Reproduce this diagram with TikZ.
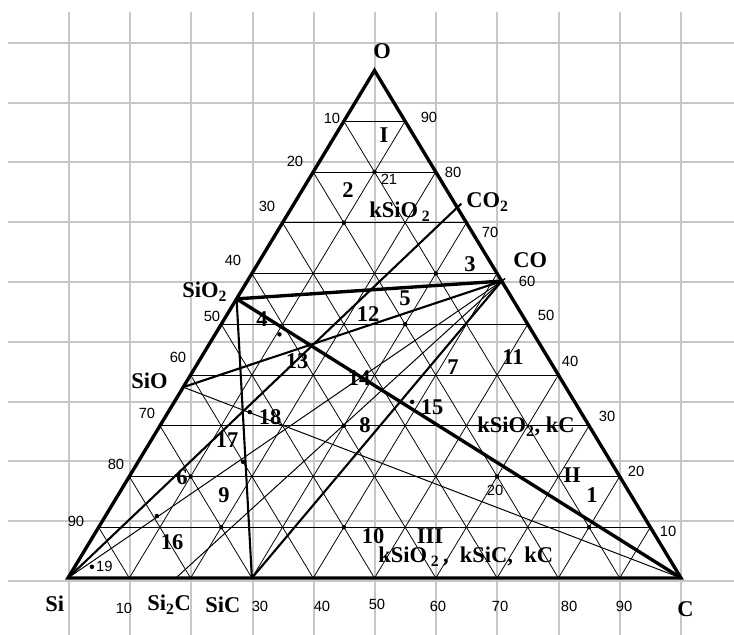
\documentclass[tikz,border=0pt]{standalone}
\usepackage{fontspec}
\setmainfont{Liberation Serif}
\newfontfamily\tickfont{Liberation Sans}
\usetikzlibrary{positioning}

\begin{document}
\begin{tikzpicture}[x=0.25mm, y=0.25mm,
    paper/.style={black!22, line width=1.4pt},
    mesh/.style={line width=0.55pt},
    heavy/.style={line width=2.4pt},
    medium/.style={line width=1.5pt},
    light/.style={line width=0.7pt},
    phase/.style={font=\fontsize{16}{16}\selectfont\bfseries, inner sep=0pt},
    tick/.style={font=\tickfont\fontsize{10.5}{10.5}\selectfont, inner sep=0pt},
    spot/.style={circle, fill, inner sep=0pt, minimum size=3.2pt}]
  \useasboundingbox (0,0) rectangle (734,635);
  % squared paper behind the diagram
  \foreach \i in {0,...,9}
    \draw[paper] (8,54+59.8*\i) -- (734,54+59.8*\i);
  \foreach \i in {0,...,10}
    \draw[paper] (69+61.2*\i,0) -- (69+61.2*\i,623);

  % ternary frame: x = mass % C, y = mass % O (y set first, it is read in the old units)
  \begin{scope}[shift={(68,57)}, y={(3.065,5.075)}, x={(6.13,0)}]
    \coordinate (Si) at (0,0);
    \coordinate (C) at (100,0);
    \coordinate (O) at (0,100);
    \coordinate (SiO2) at (0,55);
    \coordinate (SiO) at (0,37.6);
    \coordinate (CO) at (41.5,58.5);
    \coordinate (CO2) at (27,73);
    \coordinate (SiC) at (30,0);
    \coordinate (Si2C) at (17.6,0);
    \foreach \k in {10,20,...,90} {
      \draw[mesh] (0,\k) -- (100-\k,\k);
      \draw[mesh] (\k,0) -- (\k,100-\k);
      \draw[mesh] (\k,0) -- (0,\k);
    }
    \draw[light] (SiO) -- (C);
    \draw[light, shorten >=-3pt] (Si) -- (CO);
    \draw[light, shorten >=-3pt] (Si2C) -- (CO);
    \draw[medium] (SiC) -- (CO);
    \draw[medium] (SiO) -- (CO);
    \draw[medium] (SiO2) -- (SiC);
    \draw[medium, shorten >=-4pt] (Si) -- (CO2);
    \draw[heavy] (SiO2) -- (CO);
    \draw[heavy] (SiO2) -- (C);
    \draw[heavy, line join=miter] (Si) -- (C) -- (O) -- cycle;
    % reaction mixtures
    \foreach \lab/\pc/\po in {21/10/80, 2/10/70, 3/30/60, 12/30/50, 4/10.5/48,
        15/38.8/34.7, 18/13.3/32.7, 8/30/30, 17/17.1/22.9, 6/10/20, 20/60/20,
        16/8.4/12.2, 9/20/10, 10/40/10, 1/80/10, 19/2.8/2.2}
      \node[spot] (m\lab) at (\pc,\po) {};
  \end{scope}

  % scale numbers
  \foreach \t/\x/\y in {10/332/517, 20/295/474, 30/267/429, 40/233/375, 50/212/319,
      60/178/278, 70/147/222, 80/116/171, 90/76/114,
      90/429/518, 80/453/463, 70/490/403, 60/527/354, 50/546/320,
      40/570/274, 30/607/219, 20/636/164, 10/668/104,
      10/124/27, 30/260/29, 40/322/29, 50/377/31, 60/438/29,
      70/500/29, 80/569/29, 90/624/29}
    \node[tick] at (\x,\y) {\t};
  \node[tick, below right=0pt and 3pt of m21] {21};
  \node[tick, right=1pt of m19] {19};
  \node[tick] at (495,145) {20};

  % compounds and phase fields
  \node[phase, anchor=base] at (382,576) {O};
  \node[phase, anchor=base west] at (466,427) {CO\textsubscript{2}};
  \node[phase, anchor=base west] at (513,367) {CO};
  \node[phase, anchor=base west] at (182,337) {SiO\textsubscript{2}};
  \node[phase, anchor=base west] at (131,246) {SiO};
  \node[phase, anchor=base west] at (45,23) {Si};
  \node[phase, anchor=base west] at (147,24) {Si\textsubscript{2}C};
  \node[phase, anchor=base west] at (205,22) {SiC};
  \node[phase, anchor=base west] at (677,18) {C};
  \node[phase, anchor=base west] at (369,417) {kSiO\,\textsubscript{2}};
  \node[phase, anchor=base west] at (477,202) {kSiO\textsubscript{2}, kC};
  \node[phase, anchor=base west] at (378,72) {kSiO\,\textsubscript{2}\,,\enspace kSiC,\enspace kC};
  \foreach \t/\x/\y in {I/384/492, 2/348/437, 3/470/363, 5/405/329, 4/262/308,
      12/368/313, 13/297/266, 14/359/249, 15/432/220, 11/513/270, 7/453/260,
      II/572/152, 1/592/132, III/430/91, 10/373/91, 18/270/210, 8/365/202,
      17/227/187, 6/182/150, 9/224/132, 16/172/85}
    \node[phase, anchor=base] at (\x,\y) {\t};
\end{tikzpicture}
\end{document}
